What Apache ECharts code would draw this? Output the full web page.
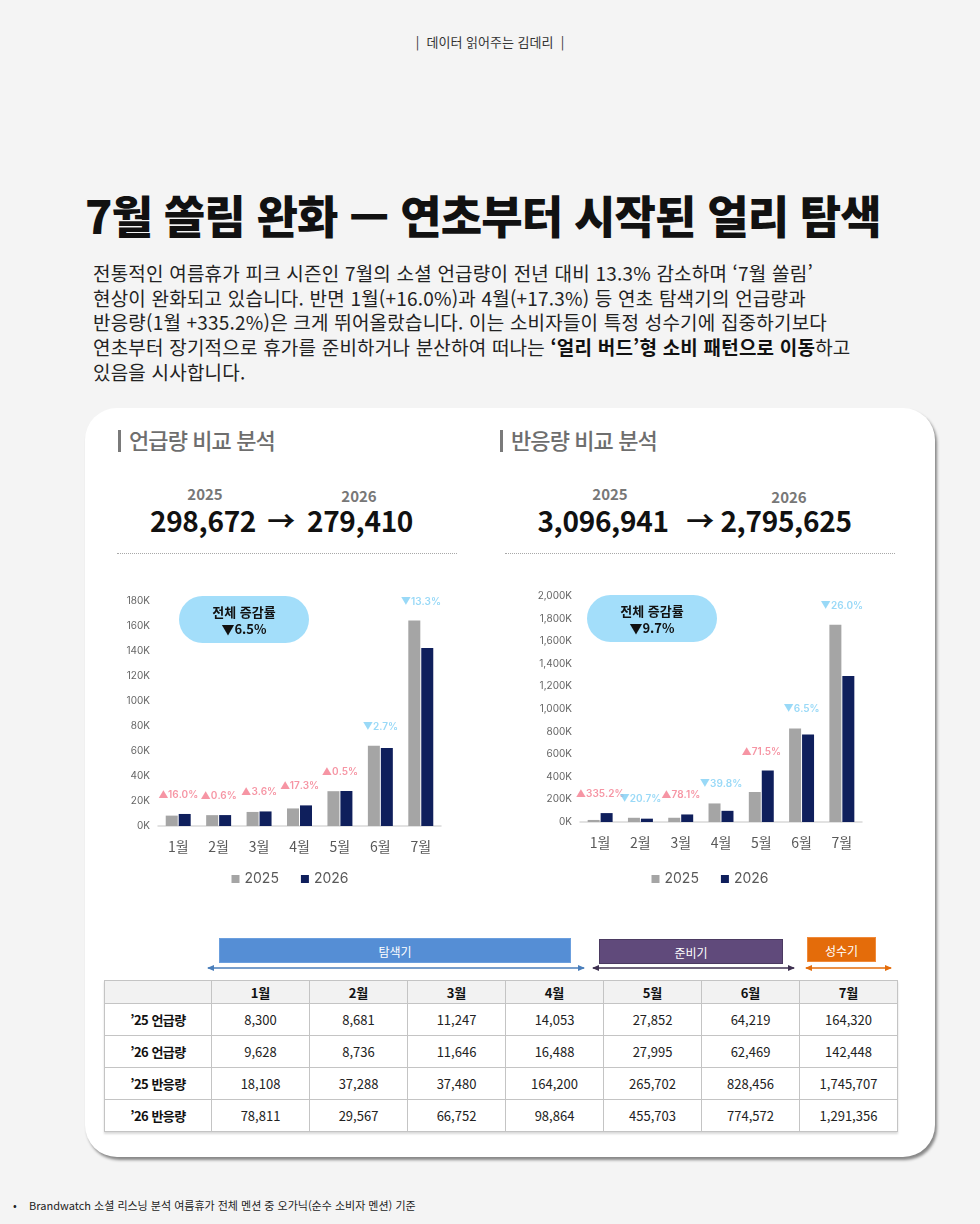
<!DOCTYPE html>
<html lang="ko">
<head>
    <meta charset="UTF-8">
    <title>7월 쏠림 완화 — 연초부터 시작된 얼리 탐색</title>
    <script src="https://cdn.jsdelivr.net/npm/echarts/dist/echarts.min.js"></script>
    <style>
        body, html {
            margin: 0;
            padding: 0;
            width: 980px;
            height: 1224px;
            background: #f4f4f4;
            font-family: "Noto Sans CJK KR", "Noto Sans", sans-serif;
            overflow: hidden;
        }

        .abs {
            position: absolute;
            white-space: nowrap;
        }

        .brand {
            left: 0;
            width: 980px;
            top: 32px;
            text-align: center;
            font-size: 13px;
            color: #333;
        }

        .title {
            left: 85px;
            top: 185px;
            font-size: 45px;
            font-weight: 900;
            color: #111;
            letter-spacing: -0.9px;
            line-height: 60px;
        }

        .desc {
            left: 93px;
            top: 261px;
            font-size: 19px;
            line-height: 24.7px;
            color: #222;
            letter-spacing: 0.2px;
        }

        .desc b {
            font-weight: 700;
            color: #111;
        }

        .card {
            left: 85px;
            top: 408px;
            width: 850px;
            height: 749px;
            background: #fff;
            border-radius: 32px;
            box-shadow: 2px 3px 3px rgba(0, 0, 0, 0.45);
        }

        .sec-title {
            top: 423px;
            font-size: 22px;
            font-weight: 500;
            color: #6e6e6e;
            letter-spacing: -0.9px;
        }

        .sec-title span {
            display: inline-block;
            width: 3px;
            height: 22px;
            background: #7a7a7a;
            margin-right: 8px;
            vertical-align: -3px;
        }

        .year {
            font-size: 15px;
            font-weight: 700;
            color: #777;
            transform: translateX(-50%);
        }

        .total {
            font-size: 28px;
            font-weight: 700;
            color: #111;
            transform: translateX(-50%);
            letter-spacing: -0.3px;
        }

        .dash {
            height: 0;
            border-top: 1.5px dotted #a8a8a8;
        }

        .chart {
            width: 380px;
            height: 320px;
        }

        .pill {
            width: 130px;
            height: 47px;
            border-radius: 24px;
            background: #a3defa;
            text-align: center;
            font-size: 13px;
            font-weight: 700;
            color: #111;
            line-height: 17px;
            padding-top: 7px;
            box-sizing: border-box;
        }

        .phase {
            height: 25px;
            line-height: 25px;
            text-align: center;
            color: #fff;
            font-size: 12px;
        }

        #tbl {
            position: absolute;
            left: 104px;
            top: 980px;
            border-collapse: collapse;
            font-size: 13px;
            color: #222;
            box-shadow: 0 2px 2px rgba(0, 0, 0, 0.15);
        }

        #tbl td, #tbl th {
            border: 1px solid #c4c4c4;
            text-align: center;
            padding: 0;
        }

        #tbl th {
            height: 22px;
            background: #f2f2f2;
            font-weight: 700;
            color: #111;
        }

        #tbl td {
            height: 31px;
        }

        #tbl td.rowh {
            font-weight: 700;
            color: #111;
            letter-spacing: -0.5px;
        }

        .foot {
            left: 13px;
            top: 1197px;
            font-size: 11px;
            color: #222;
        }
    </style>
</head>
<body>

<div class="abs brand">|&nbsp; 데이터 읽어주는 김데리 &nbsp;|</div>
<div class="abs title">7월 쏠림 완화 — 연초부터 시작된 얼리 탐색</div>
<div class="abs desc">
    전통적인 여름휴가 피크 시즌인 7월의 소셜 언급량이 전년 대비 13.3% 감소하며 ‘7월 쏠림’<br>
    현상이 완화되고 있습니다. 반면 1월(+16.0%)과 4월(+17.3%) 등 연초 탐색기의 언급량과<br>
    반응량(1월 +335.2%)은 크게 뛰어올랐습니다. 이는 소비자들이 특정 성수기에 집중하기보다<br>
    연초부터 장기적으로 휴가를 준비하거나 분산하여 떠나는 <b>‘얼리 버드’형 소비 패턴으로 이동</b>하고<br>
    있음을 시사합니다.
</div>

<div class="abs card"></div>

<div class="abs sec-title" style="left:118px;"><span></span>언급량 비교 분석</div>
<div class="abs sec-title" style="left:500px;"><span></span>반응량 비교 분석</div>

<div class="abs year" style="left:205px;top:483px;" id="m-y1"></div>
<div class="abs year" style="left:359px;top:485px;" id="m-y2"></div>
<div class="abs total" style="left:203px;top:500px;" id="m-t1"></div>
<div class="abs total" style="left:281px;top:500px;">→</div>
<div class="abs total" style="left:360px;top:500px;" id="m-t2"></div>

<div class="abs year" style="left:610px;top:483px;" id="r-y1"></div>
<div class="abs year" style="left:789px;top:486px;" id="r-y2"></div>
<div class="abs total" style="left:603px;top:500px;" id="r-t1"></div>
<div class="abs total" style="left:700px;top:500px;">→</div>
<div class="abs total" style="left:786px;top:500px;" id="r-t2"></div>

<div class="abs dash" style="left:117px;top:553px;width:340px;"></div>
<div class="abs dash" style="left:505px;top:553px;width:390px;"></div>

<div class="abs chart" id="chart1" style="left:100px;top:580px;"></div>
<div class="abs chart" id="chart2" style="left:520px;top:580px;"></div>

<div class="abs pill" style="left:179px;top:596px;" id="pill1"></div>
<div class="abs pill" style="left:587px;top:595px;" id="pill2"></div>

<!-- 시기 구분 -->
<div class="abs phase" style="left:219px;top:938px;width:352px;background:#558ed5;border:1px solid #6b9fde;box-sizing:border-box;">탐색기</div>
<div class="abs phase" style="left:599px;top:939px;width:184px;background:#604a7b;border:1px solid #4b3a61;box-sizing:border-box;">준비기</div>
<div class="abs phase" style="left:807px;top:937px;width:69px;background:#e46c0a;border:1px solid #f08a3a;box-sizing:border-box;">성수기</div>
<svg class="abs" style="left:0;top:960px;" width="980" height="16">
    <defs>
        <marker id="ab" markerWidth="8" markerHeight="8" refX="6" refY="4" orient="auto-start-reverse" markerUnits="userSpaceOnUse">
            <path d="M0,1 L7,4 L0,7 z" fill="#4a7ebb"/>
        </marker>
        <marker id="ap" markerWidth="8" markerHeight="8" refX="6" refY="4" orient="auto-start-reverse" markerUnits="userSpaceOnUse">
            <path d="M0,1 L7,4 L0,7 z" fill="#3f3151"/>
        </marker>
        <marker id="ao" markerWidth="8" markerHeight="8" refX="6" refY="4" orient="auto-start-reverse" markerUnits="userSpaceOnUse">
            <path d="M0,1 L7,4 L0,7 z" fill="#e46c0a"/>
        </marker>
    </defs>
    <line x1="208" y1="8" x2="584" y2="8" stroke="#4a7ebb" stroke-width="1.5" marker-start="url(#ab)" marker-end="url(#ab)"/>
    <line x1="593" y1="8" x2="794" y2="8" stroke="#3f3151" stroke-width="1.5" marker-start="url(#ap)" marker-end="url(#ap)"/>
    <line x1="806" y1="8" x2="891" y2="8" stroke="#e46c0a" stroke-width="1.5" marker-start="url(#ao)" marker-end="url(#ao)"/>
</svg>

<table id="tbl"></table>

<div class="abs foot">•&nbsp;&nbsp;&nbsp; Brandwatch 소셜 리스닝 분석 여름휴가 전체 멘션 중 오가닉(순수 소비자 멘션) 기준</div>

<script>
    // 데이터
    const months = ['1월', '2월', '3월', '4월', '5월', '6월', '7월'];
    const years = ['2025', '2026'];

    const mention2025 = [8300, 8681, 11247, 14053, 27852, 64219, 164320];
    const mention2026 = [9628, 8736, 11646, 16488, 27995, 62469, 142448];
    const reaction2025 = [18108, 37288, 37480, 164200, 265702, 828456, 1745707];
    const reaction2026 = [78811, 29567, 66752, 98864, 455703, 774572, 1291356];

    const mentionChange = [16.0, 0.6, 3.6, 17.3, 0.5, -2.7, -13.3];
    const reactionChange = [335.2, -20.7, 78.1, -39.8, 71.5, -6.5, -26.0];

    const mentionTotal = [298672, 279410];
    const reactionTotal = [3096941, 2795625];
    const totalChange = [-6.5, -9.7];

    const rowLabels = ['’25 언급량', '’26 언급량', '’25 반응량', '’26 반응량'];

    const fmt = n => n.toLocaleString('en-US');

    // 상단 합계
    document.getElementById('m-y1').textContent = years[0];
    document.getElementById('m-y2').textContent = years[1];
    document.getElementById('r-y1').textContent = years[0];
    document.getElementById('r-y2').textContent = years[1];
    document.getElementById('m-t1').textContent = fmt(mentionTotal[0]);
    document.getElementById('m-t2').textContent = fmt(mentionTotal[1]);
    document.getElementById('r-t1').textContent = fmt(reactionTotal[0]);
    document.getElementById('r-t2').textContent = fmt(reactionTotal[1]);

    const arrow = v => (v < 0 ? '▼' : '▲') + Math.abs(v).toFixed(1) + '%';
    document.getElementById('pill1').innerHTML = '전체 증감률<br>' + arrow(totalChange[0]);
    document.getElementById('pill2').innerHTML = '전체 증감률<br>' + arrow(totalChange[1]);

    function makeChart(elId, d25, d26, change, yMax, yStep, grid, yFmt) {
        const chart = echarts.init(document.getElementById(elId));
        const tops = d25.map((v, i) => Math.max(v, d26[i]));
        chart.setOption({
            animation: false,
            textStyle: {fontFamily: 'Inter, "Noto Sans CJK KR", sans-serif'},
            grid: grid,
            legend: {
                data: years,
                bottom: 9,
                left: 'center',
                itemWidth: 8,
                itemHeight: 8,
                itemGap: 22,
                icon: 'rect',
                textStyle: {fontSize: 14, color: '#595959', fontFamily: 'Inter, sans-serif'}
            },
            xAxis: {
                type: 'category',
                data: months,
                axisLine: {lineStyle: {color: '#d9d9d9', width: 1.5}},
                axisTick: {show: false},
                axisLabel: {fontSize: 14, color: '#595959', margin: 14, fontFamily: '"Noto Sans CJK KR", sans-serif'}
            },
            yAxis: {
                type: 'value',
                min: 0,
                max: yMax,
                interval: yStep,
                axisLine: {show: false},
                axisTick: {show: false},
                splitLine: {show: false},
                axisLabel: {fontSize: 10, color: '#666', margin: 8, formatter: yFmt}
            },
            series: [
                {
                    name: years[0],
                    type: 'bar',
                    data: d25,
                    barWidth: 12,
                    barGap: '8%',
                    itemStyle: {color: '#a5a5a5'}
                },
                {
                    name: years[1],
                    type: 'bar',
                    data: d26,
                    barWidth: 12,
                    itemStyle: {color: '#0f1f5c'}
                },
                {
                    name: 'change',
                    type: 'scatter',
                    data: tops,
                    symbolSize: 0,
                    silent: true,
                    label: {
                        show: true,
                        position: 'top',
                        distance: 14,
                        fontSize: 10,
                        formatter: p => {
                            const v = change[p.dataIndex];
                            return v < 0 ? '{dn|' + arrow(v) + '}' : '{up|' + arrow(v) + '}';
                        },
                        rich: {
                            up: {color: '#f47b8d', fontSize: 10, fontWeight: 600},
                            dn: {color: '#7fd0f5', fontSize: 10, fontWeight: 600}
                        }
                    }
                }
            ]
        });
    }

    makeChart('chart1', mention2025, mention2026, mentionChange, 180000, 20000,
        {left: 58, right: 39, top: 21, bottom: 74},
        v => (v / 1000) + 'K');
    makeChart('chart2', reaction2025, reaction2026, reactionChange, 2000000, 200000,
        {left: 60, right: 38, top: 16, bottom: 78},
        v => fmt(v / 1000) + 'K');

    // 표
    const tableRows = [mention2025, mention2026, reaction2025, reaction2026];
    let html = '<tr><th style="width:106px"></th>' +
        months.map(m => '<th style="width:97px">' + m + '</th>').join('') + '</tr>';
    tableRows.forEach((row, i) => {
        html += '<tr><td class="rowh">' + rowLabels[i] + '</td>' +
            row.map(v => '<td>' + fmt(v) + '</td>').join('') + '</tr>';
    });
    document.getElementById('tbl').innerHTML = html;
</script>

</body>
</html>
